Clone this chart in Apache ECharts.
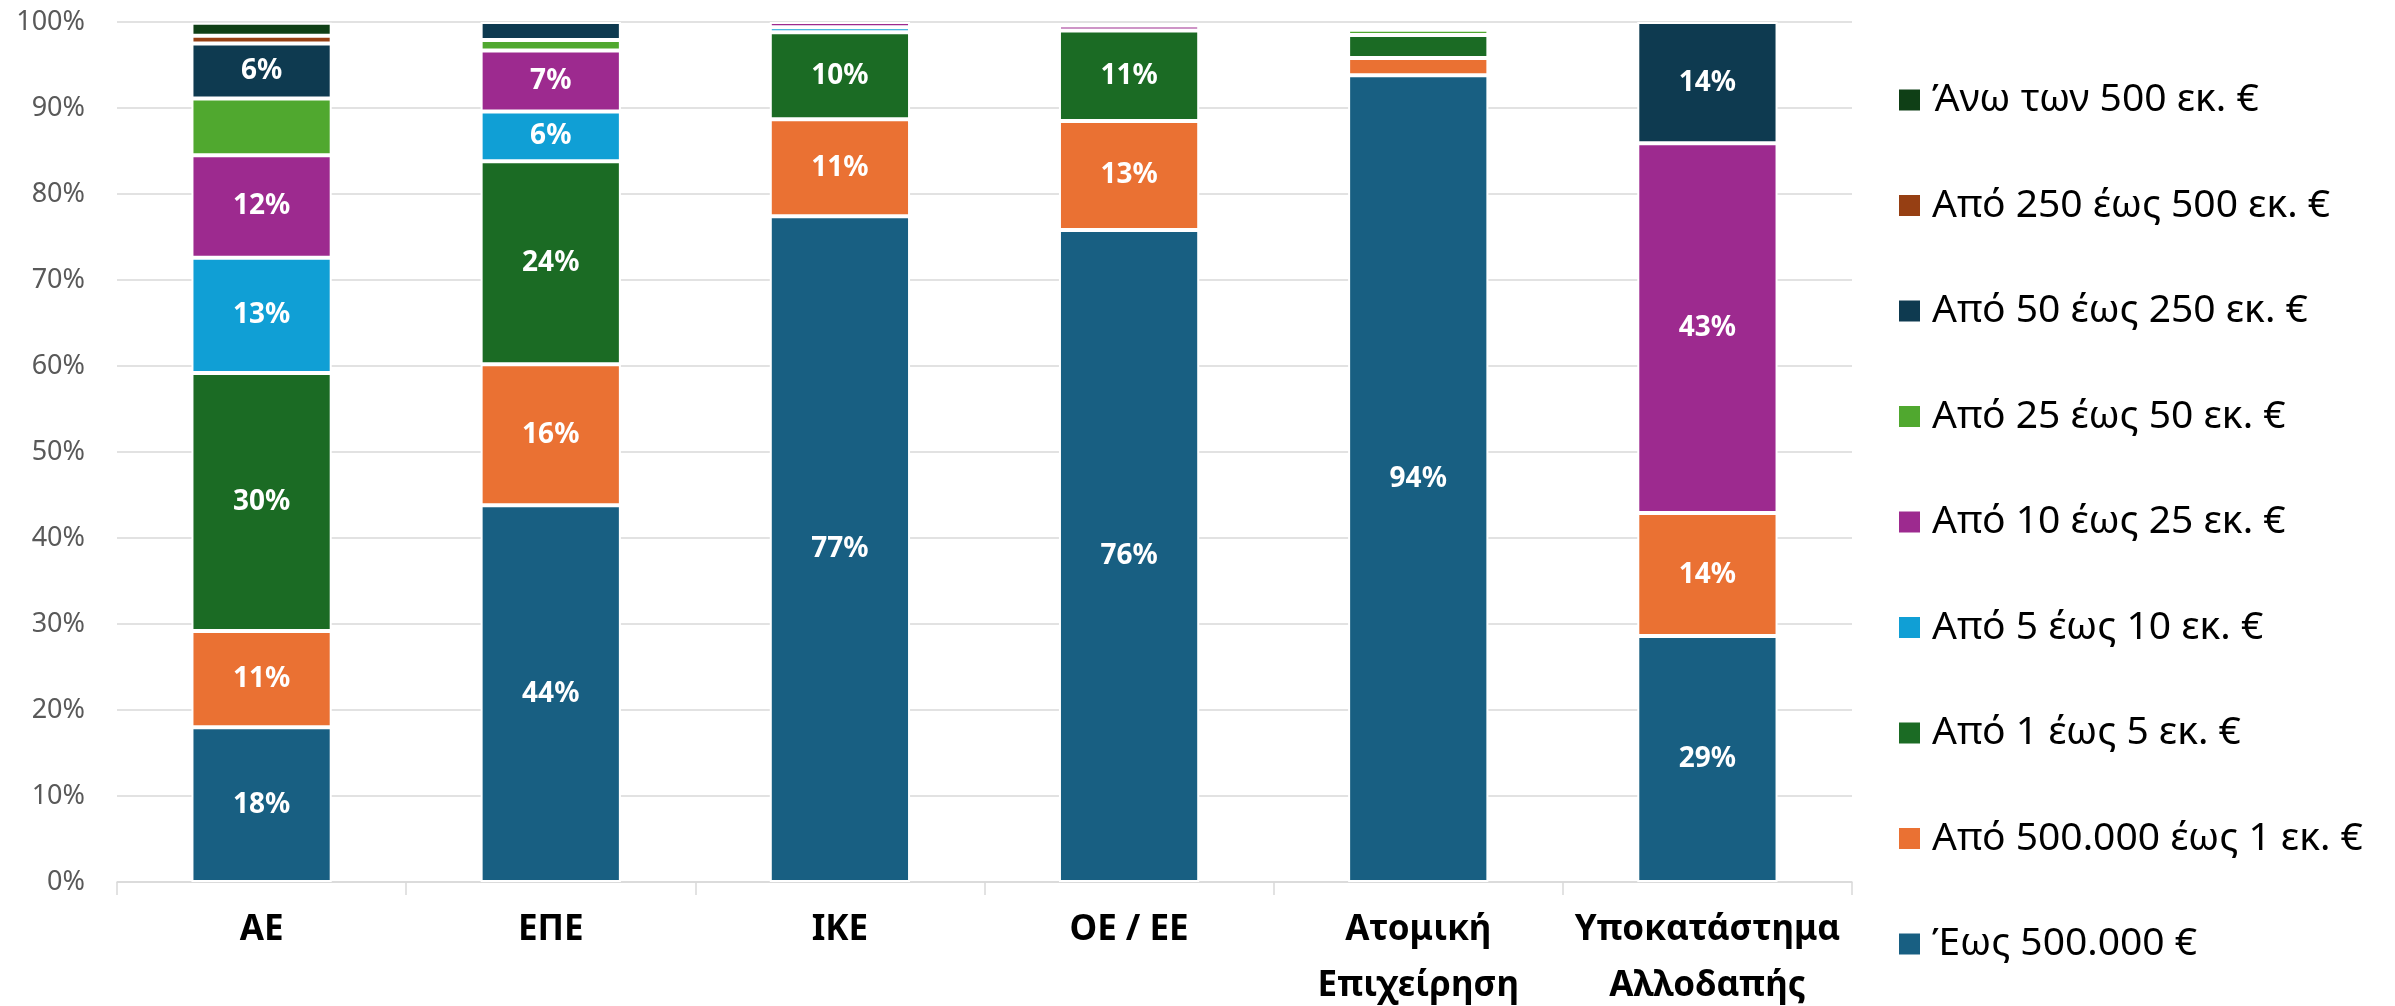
<!DOCTYPE html>
<html>
<head>
<meta charset="utf-8">
<title>Κατανομή ανά νομική μορφή</title>
<script src="https://cdn.jsdelivr.net/npm/echarts@6/dist/echarts.min.js"></script>
<style>
  html, body { margin: 0; padding: 0; background: #fff; }
  #chart { width: 2395px; height: 1006px; }
</style>
</head>
<body>
<div id="chart"></div>
<script>
// κατηγορίες (νομική μορφή)
const categories = ["ΑΕ", "ΕΠΕ", "ΙΚΕ", "ΟΕ / ΕΕ", "Ατομική\nΕπιχείρηση", "Υποκατάστημα\nΑλλοδαπής"];

// ποσοστά (%) ανά κλιμάκιο κύκλου εργασιών
const upTo500k    = [18.0, 43.8, 77.4, 75.8, 93.8, 28.6];
const from500kTo1 = [11.2, 16.4, 11.3, 12.7, 2.0, 14.3];
const from1To5    = [30.0, 23.6, 10.1, 10.5, 2.7, 0];
const from5To10   = [13.4, 5.8, 0.6, 0, 0, 0];
const from10To25  = [11.9, 7.1, 0.6, 0.6, 0, 43.0];
const from25To50  = [6.6, 1.2, 0, 0, 0.6, 0];
const from50To250 = [6.4, 2.1, 0, 0, 0, 14.1];
const from250To500 = [0.9, 0, 0, 0, 0, 0];
const over500     = [1.5, 0, 0, 0, 0.4, 0];

const seriesNames = [
  "Έως 500.000 €",
  "Από 500.000 έως 1 εκ. €",
  "Από 1 έως 5 εκ. €",
  "Από 5 έως 10 εκ. €",
  "Από 10 έως 25 εκ. €",
  "Από 25 έως 50 εκ. €",
  "Από 50 έως 250 εκ. €",
  "Από 250 έως 500 εκ. €",
  "Άνω των 500 εκ. €"
];
const seriesValues = [upTo500k, from500kTo1, from1To5, from5To10, from10To25,
  from25To50, from50To250, from250To500, over500];
const seriesColors = ["#185F82", "#EA7133", "#1B6B24", "#109FD5", "#9D2A8F",
  "#50A82F", "#0E3A50", "#963F13", "#0F3F16"];

// ετικέτες που δεν εμφανίζονται στο πρωτότυπο: [σειρά, κατηγορία]
const hiddenLabels = [[5, 0]];
const yTicks = { min: 0, max: 100, interval: 10 };

const myChart = echarts.init(document.getElementById("chart"));

const series = seriesValues.map((vals, si) => ({
  name: seriesNames[si],
  type: "bar",
  stack: "total",
  barWidth: "48.5%",
  itemStyle: { color: seriesColors[si], borderColor: "#ffffff", borderWidth: 2 },
  label: {
    show: true,
    position: "inside",
    color: "#ffffff",
    fontFamily: "Noto Sans",
    fontWeight: "bold",
    fontSize: 28,
    formatter: (p) => {
      const hide = hiddenLabels.some(h => h[0] === si && h[1] === p.dataIndex);
      if (hide || p.value < 5) return "";
      return Math.round(p.value) + "%";
    }
  },
  data: vals.map(v => (v === 0 ? "-" : v))
}));

const option = {
  animation: false,
  backgroundColor: "#ffffff",
  grid: { left: 117, right: 543, top: 22, bottom: 124, outerBoundsMode: "none" },
  legend: {
    orient: "vertical",
    left: 1892,
    top: 75,
    data: seriesNames.slice().reverse(),
    icon: "rect",
    itemWidth: 23,
    itemHeight: 23,
    itemGap: 65.5,
    textStyle: {
      fontFamily: "Noto Sans",
      fontSize: 39,
      lineHeight: 40,
      color: "#000000",
      padding: [0, 0, 0, 6]
    }
  },
  xAxis: {
    type: "category",
    data: categories,
    axisLine: { lineStyle: { color: "#D9D9D9", width: 1.5 } },
    axisTick: { show: true, interval: 0, length: 13, lineStyle: { color: "#D9D9D9", width: 1.5 } },
    axisLabel: {
      interval: 0,
      margin: 20,
      fontFamily: "Noto Sans",
      fontWeight: "bold",
      fontSize: 35,
      lineHeight: 56,
      color: "#000000"
    }
  },
  yAxis: {
    type: "value",
    min: yTicks.min,
    max: yTicks.max,
    interval: yTicks.interval,
    axisLine: { show: false },
    axisTick: { show: false },
    splitLine: { lineStyle: { color: "#D9D9D9", width: 1.5 } },
    axisLabel: {
      margin: 32,
      formatter: "{value}%",
      fontFamily: "Noto Sans",
      fontSize: 27,
      color: "#595959"
    }
  },
  series: series
};

myChart.setOption(option);
</script>
</body>
</html>
